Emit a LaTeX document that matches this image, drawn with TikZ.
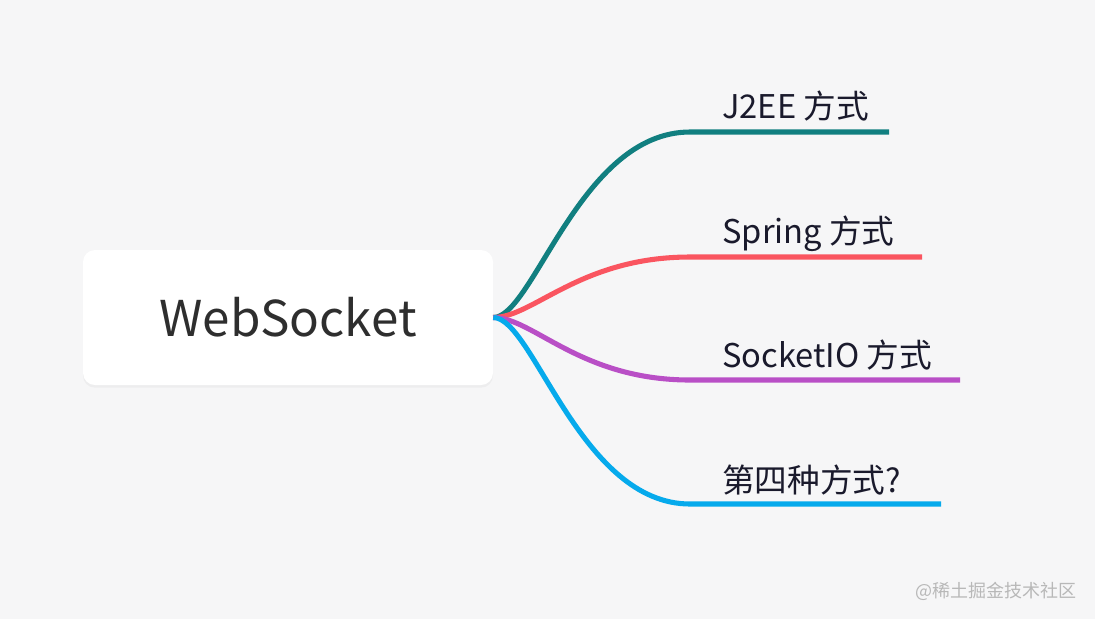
\documentclass[tikz,border=0pt]{standalone}
\usepackage{fontspec}
\setmainfont{Noto Sans CJK SC}
\usetikzlibrary{shadows}

\definecolor{bgcol}{HTML}{F6F6F7}
\definecolor{tealc}{HTML}{117F80}
\definecolor{redc}{HTML}{FA5560}
\definecolor{purplec}{HTML}{B94FC6}
\definecolor{bluec}{HTML}{06AAEC}
\definecolor{inkc}{HTML}{1A1A2C}

\tikzset{
  rootbox/.style={fill=white, rounded corners=9pt, minimum width=307.5pt,
    minimum height=101.25pt, text=black!82, font=\fontsize{37}{40}\selectfont,
    drop shadow={opacity=0.07, shadow xshift=0pt, shadow yshift=-2pt}},
  branch/.style={line width=3.8pt},
  leaf/.style={anchor=base west, inner sep=0pt, text=inkc,
    font=\fontsize{24.5}{27}\selectfont}
}

\begin{document}
\begin{tikzpicture}[x=0.75pt, y=-0.75pt]
    % Canvas
    \fill[bgcol] (0,0) rectangle (1095,619);

    % Central topic
    \node[rootbox] (ws) at (288,317.5) {WebSocket};

    % Knees and ends of the four branches
    \coordinate (k1) at (690,132);
    \coordinate (e1) at (889,132);
    \coordinate (k2) at (690,257);
    \coordinate (e2) at (922,257);
    \coordinate (k3) at (690,380);
    \coordinate (e3) at (960,380);
    \coordinate (k4) at (690,504);
    \coordinate (e4) at (941,504);

    % Branches from the topic
    \draw[branch, tealc] (ws.east) .. controls +(40,0) and +(-110,0) .. (k1) -- (e1);
    \draw[branch, redc] (ws.east) .. controls +(40,0) and +(-110,0) .. (k2) -- (e2);
    \draw[branch, purplec] (ws.east) .. controls +(40,0) and +(-110,0) .. (k3) -- (e3);
    \draw[branch, bluec] (ws.east) .. controls +(40,0) and +(-110,0) .. (k4) -- (e4);

    % Branch labels
    \node[leaf] (j2ee) at (722,118) {J2EE 方式};
    \node[leaf] (spring) at (722,243) {Spring 方式};
    \node[leaf] (sockio) at (722,367) {SocketIO 方式};
    \node[leaf] (fourth) at (722,492) {第四种方式?};

    % Watermark
    \node[anchor=base east, inner sep=0pt, text=black!28,
      font=\fontsize{13.5}{15}\selectfont] (mark) at (1077,597) {@稀土掘金技术社区};
\end{tikzpicture}
\end{document}
